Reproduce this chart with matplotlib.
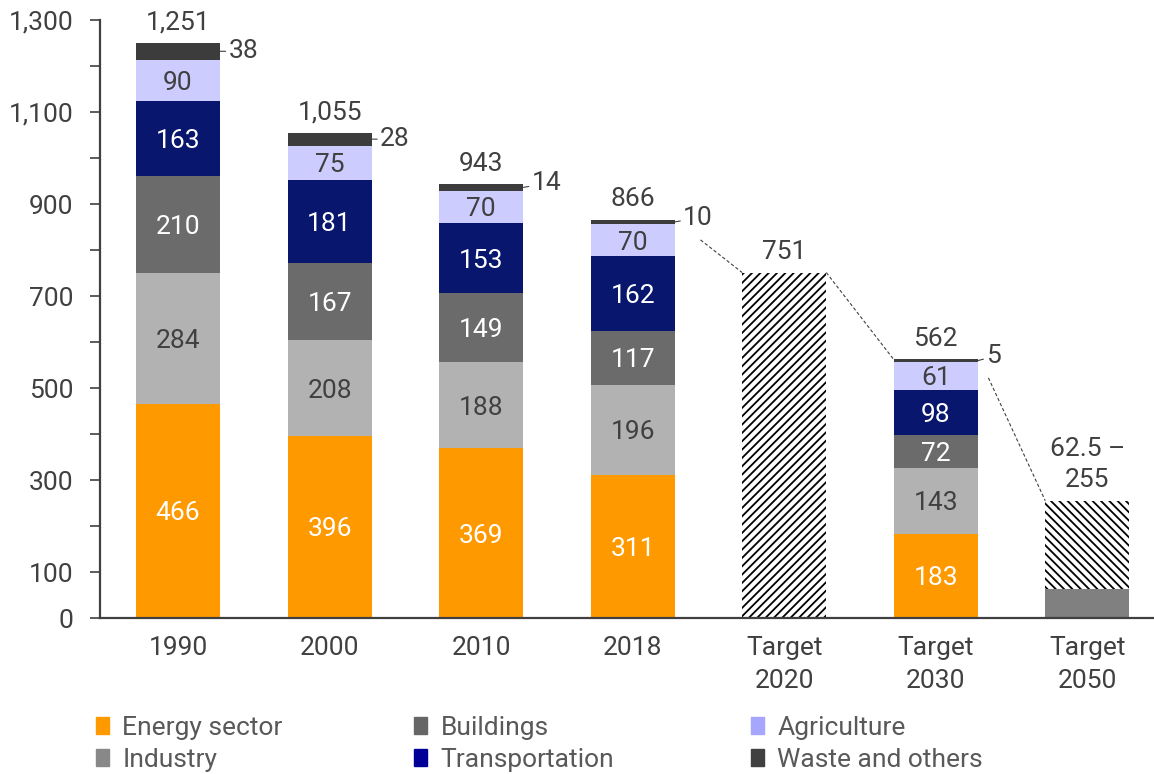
import numpy as np
import matplotlib
matplotlib.use("Agg")
import matplotlib.pyplot as plt
from matplotlib.patches import Patch

# =========================
# DATA
# =========================
categories = ["1990", "2000", "2010", "2018", "Target\n2020", "Target\n2030", "Target\n2050"]
stack_pos = [0, 1, 2, 3, 5]          # bars that are split by sector

sectors = ["Energy sector", "Industry", "Buildings", "Transportation", "Agriculture", "Waste and others"]
energy = [466, 396, 369, 311, 183]
industry = [284, 208, 188, 196, 143]
buildings = [210, 167, 149, 117, 72]
transport = [163, 181, 153, 162, 98]
agriculture = [90, 75, 70, 70, 61]
waste = [38, 28, 14, 10, 5]
totals = [1251, 1055, 943, 866, 562]

target_2020 = 751
target_2050_low = 62.5
target_2050_high = 255

ytick_vals = list(range(0, 1301, 100))
ytick_text = ["0", "100", "", "300", "", "500", "", "700", "", "900", "", "1,100", "", "1,300"]

# =========================
# STYLE
# =========================
plt.rcParams["font.family"] = ["Roboto", "DejaVu Sans"]
plt.rcParams["hatch.linewidth"] = 1.3
TXT = "#404040"
FS = 19
bar_colors = ["#FF9900", "#B2B2B2", "#6B6B6B", "#08166E", "#CCCCFF", "#3C3C3C"]
legend_colors = ["#FF9900", "#888888", "#666666", "#000099", "#A6A6FF", "#404040"]
label_colors = ["white", TXT, "white", "white", TXT, None]
W = 0.555

fig = plt.figure(figsize=(11.54, 7.74), dpi=100)
ax = fig.add_axes([100 / 1154, 1 - 618 / 774, 1 - 100 / 1154, 598 / 774])

# =========================
# STACKED BARS
# =========================
series = [energy, industry, buildings, transport, agriculture, waste]
bottom = np.zeros(len(stack_pos))
for k, vals in enumerate(series):
    vals = np.array(vals, dtype=float)
    ax.bar(stack_pos, vals, W, bottom=bottom, color=bar_colors[k], linewidth=0)
    for p, v, b in zip(stack_pos, vals, bottom):
        if k < 5:
            ax.text(p, b + v / 2, f"{int(v)}", ha="center", va="center_baseline",
                    fontsize=FS, color=label_colors[k])
        else:
            dy = 0 if v > 20 else 3
            ax.annotate(f"{int(v)}", xy=(p + W / 2, b + v / 2), xytext=(6, dy),
                        textcoords="offset points", ha="left", va="center",
                        fontsize=FS, color=TXT,
                        arrowprops=dict(arrowstyle="-", color=TXT, lw=0.8,
                                        shrinkA=0, shrinkB=0))
    bottom += vals

for p, t in zip(stack_pos, totals):
    ax.annotate(f"{t:,}", xy=(p, t), xytext=(0, 6), textcoords="offset points",
                ha="center", va="bottom", fontsize=FS, color=TXT)

# =========================
# TARGET BARS
# =========================
ax.bar(4, target_2020, W, color="white", edgecolor="black", hatch="////", linewidth=0)
ax.annotate(f"{target_2020}", xy=(4, target_2020), xytext=(0, 6), textcoords="offset points",
            ha="center", va="bottom", fontsize=FS, color=TXT)

ax.bar(6, target_2050_low, W, color="#808080", linewidth=0)
ax.bar(6, target_2050_high - target_2050_low, W, bottom=target_2050_low,
       color="white", edgecolor="black", hatch="\\\\\\\\", linewidth=0)
ax.annotate(f"{target_2050_low} –\n{target_2050_high}", xy=(6, target_2050_high),
            xytext=(0, 6), textcoords="offset points", ha="center", va="bottom",
            fontsize=FS, color=TXT, linespacing=1.4)

# dashed connectors between totals and targets
dash = dict(color=TXT, lw=0.8, ls=(0, (3, 2)))
ax.plot([3 + W / 2 + 0.17, 4 - W / 2], [totals[3] - 44, target_2020], **dash)
ax.plot([4 + W / 2, 5 - W / 2], [target_2020, totals[4]], **dash)
ax.plot([5 + W / 2 + 0.07, 6 - W / 2], [totals[4] - 40, target_2050_high], **dash)

# =========================
# AXES
# =========================
ax.set_xlim(-0.515, 6.44)
ax.set_ylim(0, 1300)
ax.set_xticks(range(len(categories)))
ax.set_xticklabels(categories, fontsize=FS, color=TXT, linespacing=1.45)
ax.tick_params(axis="x", which="major", length=0, pad=13)
ax.set_xticks([3], minor=True)
ax.tick_params(axis="x", which="minor", length=7, width=0.8, color=TXT, direction="out")

ax.set_yticks(ytick_vals)
ax.set_yticklabels(ytick_text, fontsize=FS, color=TXT)
ax.tick_params(axis="y", length=7, width=1.2, color=TXT, pad=12)

for s in ["top", "right"]:
    ax.spines[s].set_visible(False)
for s in ["left", "bottom"]:
    ax.spines[s].set_color(TXT)
    ax.spines[s].set_linewidth(1.6)

# =========================
# LEGEND (three columns)
# =========================
handles = [Patch(color=c, label=l) for c, l in zip(legend_colors, sectors)]
col_x = [96 / 1154, 414 / 1154, 751 / 1154]
for j in range(3):
    leg = fig.legend(handles=handles[2 * j:2 * j + 2], loc="upper left",
                     bbox_to_anchor=(col_x[j], 1 - 716 / 774), frameon=False,
                     fontsize=FS, handlelength=0.5, handleheight=0.6,
                     handletextpad=0.5, labelspacing=0.3, borderpad=0,
                     borderaxespad=0)
    for t in leg.get_texts():
        t.set_color("#595959")

plt.savefig("out.png", dpi=100)
plt.close()
